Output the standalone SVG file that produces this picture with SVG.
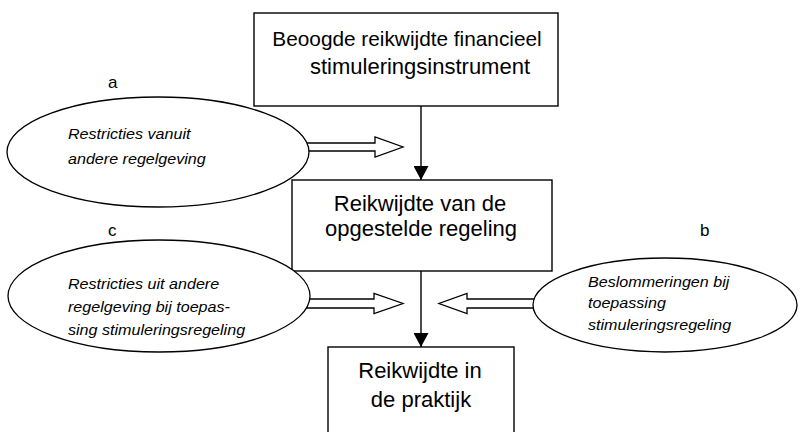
<svg xmlns="http://www.w3.org/2000/svg" width="800" height="432" viewBox="0 0 800 432">
<defs>
<style>
.box{fill:#fff;stroke:#000;stroke-width:1.4}
.ell{fill:#fff;stroke:#000;stroke-width:1.3}
.big{font-family:"Liberation Sans",Arial,sans-serif;font-size:22px;fill:#000;text-anchor:middle}
.it{font-family:"Liberation Sans",Arial,sans-serif;font-size:14px;font-style:italic;fill:#000}
.lbl{font-family:"Liberation Sans",Arial,sans-serif;font-size:17px;fill:#000}
.line{stroke:#000;stroke-width:1.4;fill:none}
.hollow{fill:#fff;stroke:#000;stroke-width:1.3;stroke-linejoin:miter}
</style>
<marker id="ah" viewBox="0 0 14 15" refX="14" refY="7.5" markerWidth="14" markerHeight="15" markerUnits="userSpaceOnUse" orient="auto">
<path d="M0,0 L14,7.5 L0,15 Z" fill="#000"/>
</marker>
</defs>
<rect width="800" height="432" fill="#fff"/>
<g id="connectors">
<line class="line" x1="421" y1="106" x2="421" y2="180" marker-end="url(#ah)"/>
<line class="line" x1="421" y1="271" x2="421" y2="347" marker-end="url(#ah)"/>
<path class="hollow" d="M305,143 L375,143 L375,137 L403,147 L375,157 L375,151 L305,151 Z"/>
<path class="hollow" d="M305,299 L374,299 L374,293.5 L403,303.5 L374,313.5 L374,308 L305,308 Z"/>
<path class="hollow" d="M538,299 L467,299 L467,293.5 L439,303.5 L467,313.5 L467,308 L538,308 Z"/>
</g>
<g id="top-box">
<rect class="box" x="254" y="13" width="304" height="93"/>
<text class="big" x="407" y="46" style="font-size:20.8px">Beoogde reikwijdte financieel</text>
<text class="big" x="420" y="74">stimuleringsinstrument</text>
</g>
<g id="middle-box">
<rect class="box" x="292" y="180" width="260" height="91"/>
<text class="big" x="420" y="211">Reikwijdte van de</text>
<text class="big" x="421" y="236">opgestelde regeling</text>
</g>
<g id="bottom-box">
<rect class="box" x="328" y="347" width="186" height="100"/>
<text class="big" x="420" y="378">Reikwijdte in</text>
<text class="big" x="421" y="407">de praktijk</text>
</g>
<g id="node-a">
<ellipse class="ell" cx="158" cy="152" rx="151" ry="55"/>
<text class="lbl" x="108" y="88">a</text>
<g transform="translate(68,0) scale(1.15,1)">
<text class="it" x="0" y="139">Restricties vanuit</text>
<text class="it" x="0" y="164">andere regelgeving</text>
</g>
</g>
<g id="node-c">
<ellipse class="ell" cx="159" cy="296" rx="151" ry="56"/>
<text class="lbl" x="108" y="236">c</text>
<g transform="translate(68,0) scale(1.15,1)">
<text class="it" x="0" y="289">Restricties uit andere</text>
<text class="it" x="0" y="312">regelgeving bij toepas-</text>
<text class="it" x="0" y="335">sing stimuleringsregeling</text>
</g>
</g>
<g id="node-b">
<ellipse class="ell" cx="665" cy="305" rx="132" ry="47"/>
<text class="lbl" x="700" y="236">b</text>
<g transform="translate(588,0) scale(1.15,1)">
<text class="it" x="0" y="287">Beslommeringen bij</text>
<text class="it" x="0" y="308">toepassing</text>
<text class="it" x="0" y="330">stimuleringsregeling</text>
</g>
</g>
</svg>
